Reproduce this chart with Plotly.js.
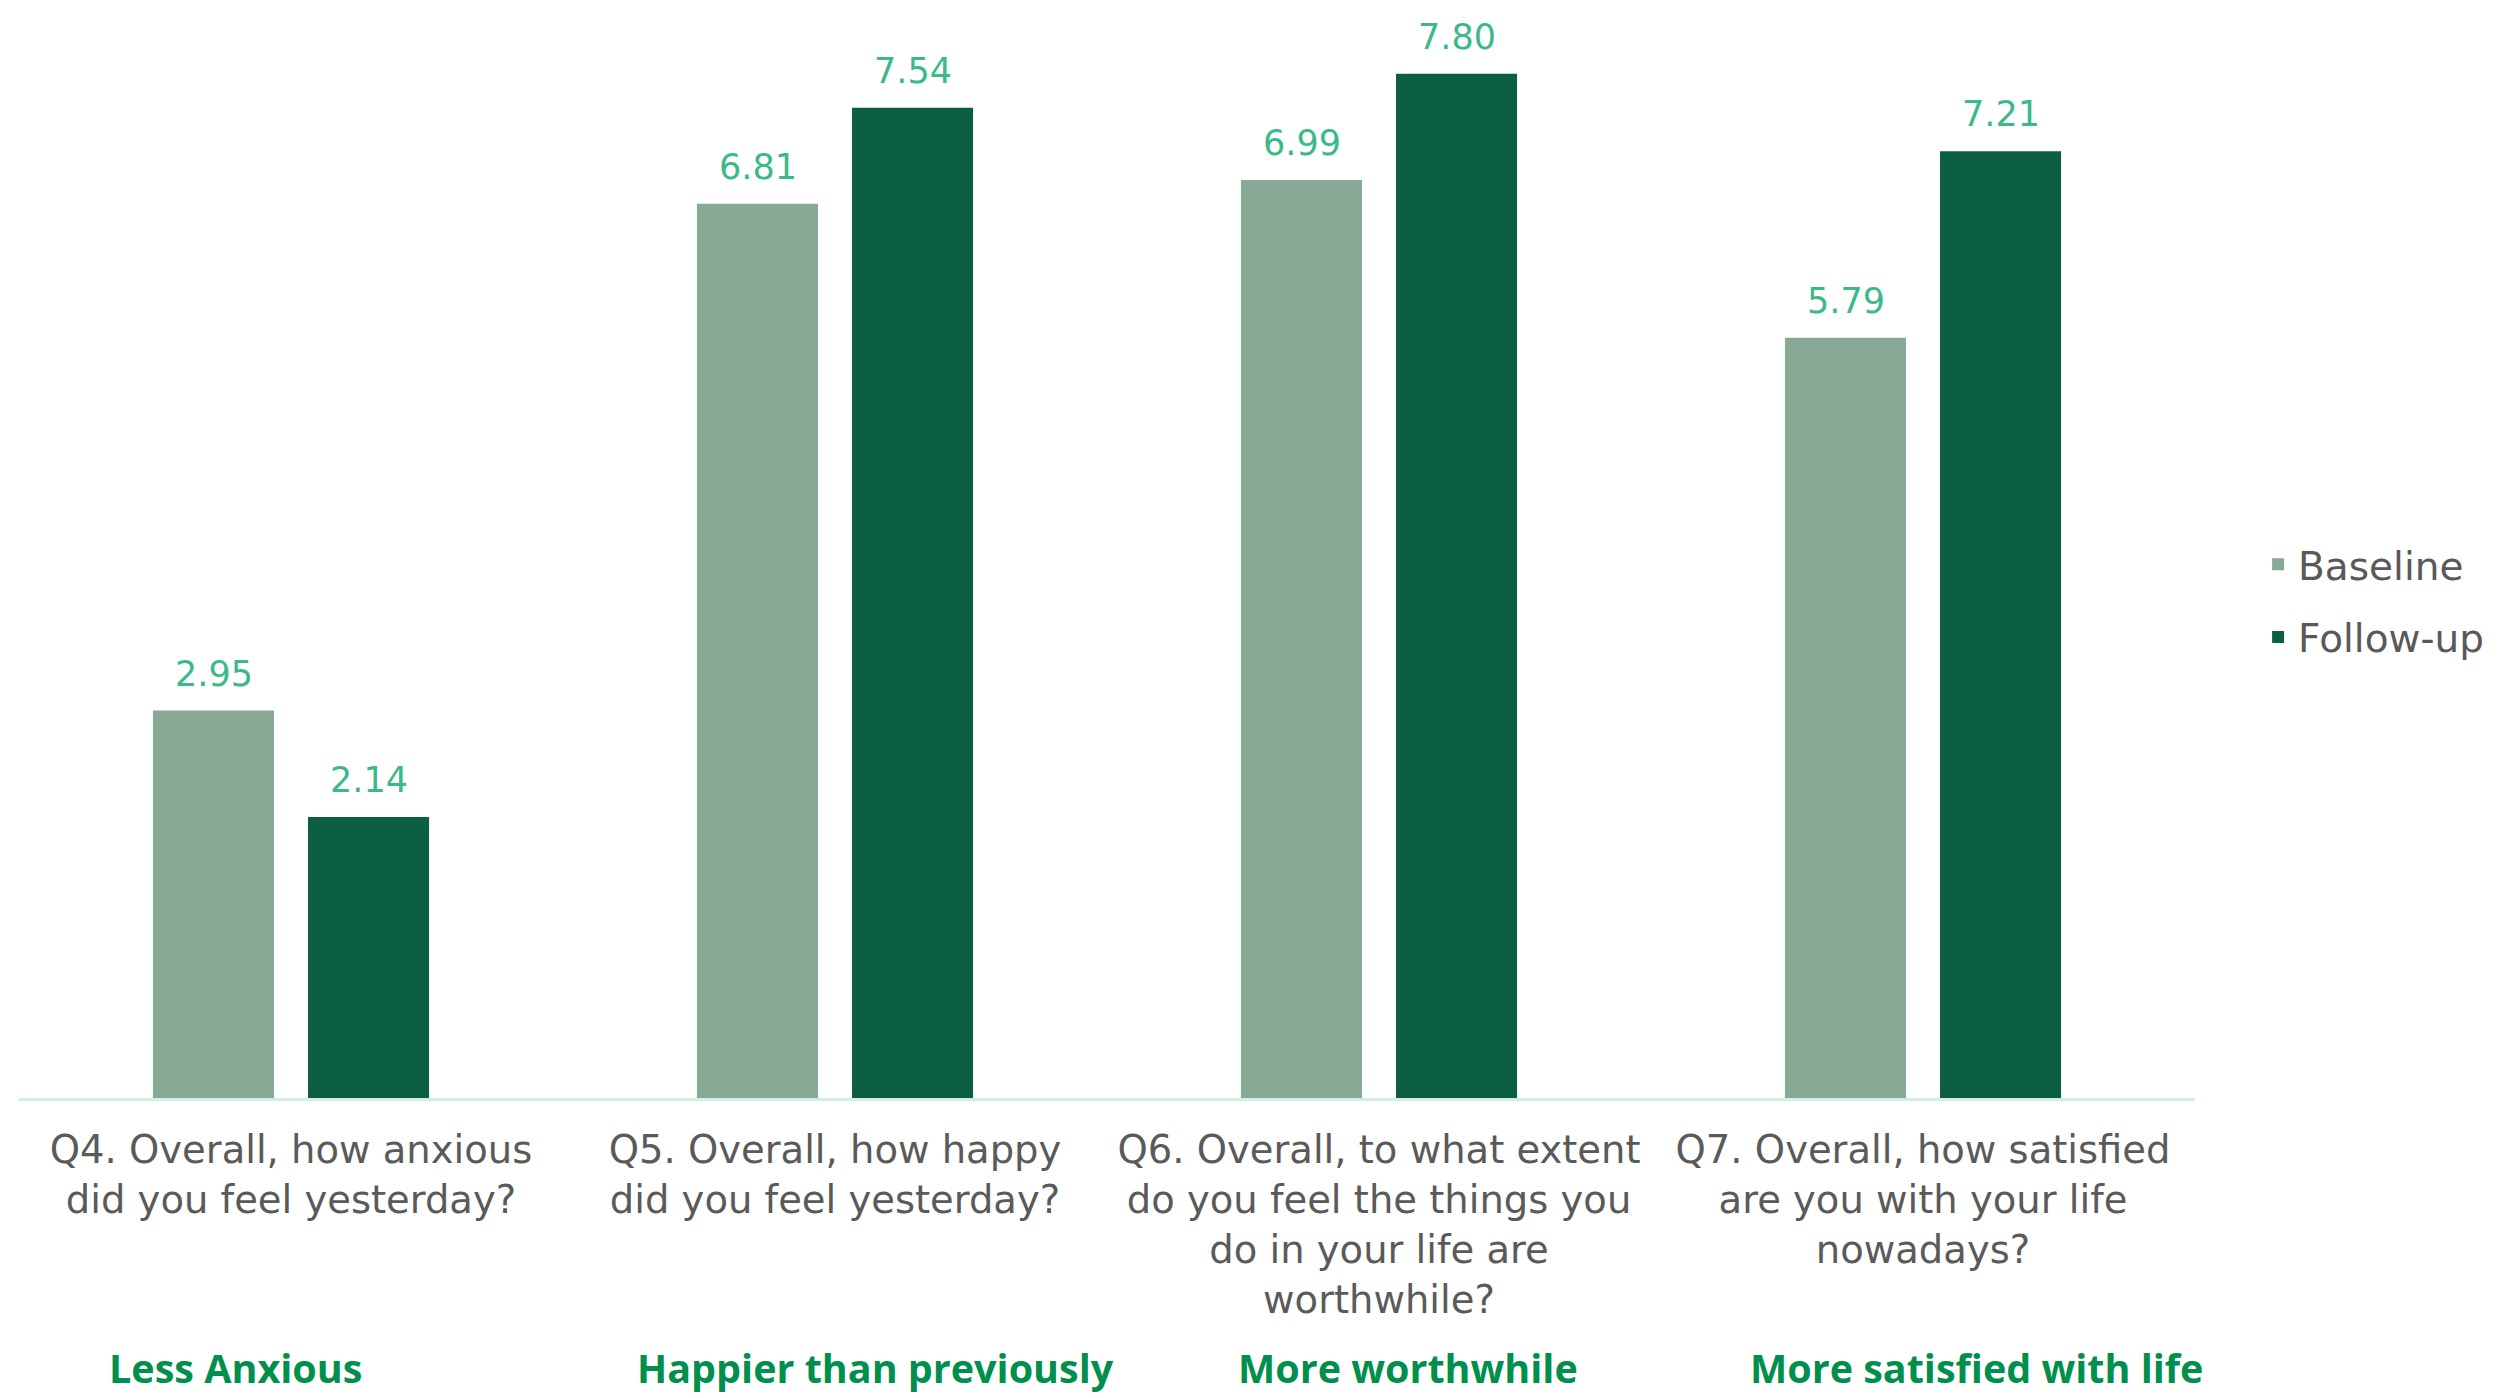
<!DOCTYPE html>
<html>
<head>
<meta charset="utf-8">
<script src="https://cdn.plot.ly/plotly-3.0.1.min.js"></script>
<style>html,body{margin:0;padding:0;background:#fff;}#chart{width:2498px;height:1398px;}</style>
</head>
<body>
<div id="chart"></div>
<script>
const categories = ['Q4', 'Q5', 'Q6', 'Q7'];
const tickLabels = [
  'Q4. Overall, how anxious<br>did you feel yesterday?',
  'Q5. Overall, how happy<br>did you feel yesterday?',
  'Q6. Overall, to what extent<br>do you feel the things you<br>do in your life are<br>worthwhile?',
  'Q7. Overall, how satisfied<br>are you with your life<br>nowadays?'
];
const baseline = [2.95, 6.81, 6.99, 5.79];
const followUp = [2.14, 7.54, 7.80, 7.21];
const seriesNames = ['Baseline', 'Follow-up'];
const summaryLabels = ['Less Anxious', 'Happier than previously', 'More worthwhile', 'More satisfied with life'];

const colBase = '#87a996';
const colFollow = '#0c5f41';
const colValue = '#3cb98a';

const traces = [
  {type: 'bar', name: seriesNames[0], x: categories, y: baseline, marker: {color: colBase}, legendgroup: 'a', hoverinfo: 'none'},
  {type: 'bar', name: seriesNames[1], x: categories, y: followUp, marker: {color: colFollow}, legendgroup: 'b', hoverinfo: 'none'}
];

const annotations = [];
const series = [baseline, followUp];
series.forEach((vals, s) => {
  vals.forEach((v, i) => {
    annotations.push({
      x: categories[i], y: v, xref: 'x', yref: 'y',
      xshift: s === 0 ? -77.5 : 77.5, yshift: 15,
      yanchor: 'bottom', showarrow: false,
      text: v.toFixed(2),
      font: {family: 'DejaVu Sans', size: 35, color: colValue}
    });
  });
});
const summaryX = [235, 875, 1408, 1976];
summaryLabels.forEach((t, i) => {
  annotations.push({
    x: (summaryX[i] - 19) / 2176, y: 0, xref: 'paper', yref: 'paper',
    yshift: -270,
    xanchor: 'center', yanchor: 'middle', showarrow: false,
    text: '<b>' + t + '</b>',
    font: {family: 'Open Sans', size: 39.5, color: '#008f4c'}
  });
});

const layout = {
  width: 2498, height: 1398,
  margin: {l: 19, r: 303, t: 8, b: 300},
  paper_bgcolor: '#ffffff', plot_bgcolor: '#ffffff',
  barmode: 'group', bargap: 0.43, bargroupgap: 0.219,
  xaxis: {
    type: 'category', tickvals: categories, ticktext: tickLabels,
    showline: true, linecolor: '#d3efe2', linewidth: 3,
    showgrid: false, zeroline: false, ticks: '', ticklen: 0,
    ticklabelstandoff: 16,
    tickfont: {family: 'DejaVu Sans', size: 38.5, color: '#5a5a5a'},
    fixedrange: true
  },
  yaxis: {range: [0, 8.3], visible: false, showgrid: false, zeroline: false, fixedrange: true},
  showlegend: true,
  legend: {
    x: 1.029, xanchor: 'left', y: 0.456, yanchor: 'middle',
    traceorder: 'grouped', tracegroupgap: 19,
    font: {family: 'DejaVu Sans', size: 39, color: '#595959'},
    bgcolor: 'rgba(0,0,0,0)'
  },
  annotations: annotations
};

Plotly.newPlot('chart', traces, layout, {displayModeBar: false, staticPlot: true});
</script>
</body>
</html>
